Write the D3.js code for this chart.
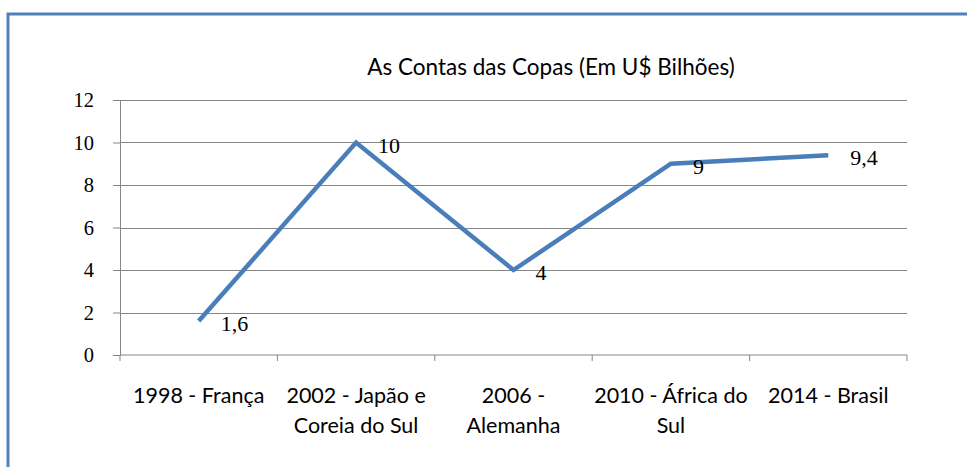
<!DOCTYPE html>
<html>
<head>
  <meta charset="utf-8">
  <title>As Contas das Copas</title>
  <script src="https://d3js.org/d3.v7.min.js"></script>
  <style>
    body { margin: 0; background: #fff; }
    .grid line { stroke: #868686; stroke-width: 1; }
    .axis path, .axis line { stroke: #868686; }
  </style>
</head>
<body>
  <svg id="chart"></svg>
  <script>
    const categories = [
      ["1998 - França"],
      ["2002 - Japão e", "Coreia do Sul"],
      ["2006 -", "Alemanha"],
      ["2010 - África do", "Sul"],
      ["2014 - Brasil"]
    ];
    const values = [1.6, 10, 4, 9, 9.4];
    const valueLabels = ["1,6", "10", "4", "9", "9,4"];
    const yTicks = [0, 2, 4, 6, 8, 10, 12];

    const svgWidth = 967, svgHeight = 467;
    const margin = { top: 100, right: 60, bottom: 112, left: 120 };
    const width = 907 - margin.left;
    const height = 355 - margin.top;

    const svg = d3.select("#chart")
      .attr("width", svgWidth)
      .attr("height", svgHeight);

    // outer frame (only top/left visible)
    svg.append("rect")
      .attr("x", 8).attr("y", 14)
      .attr("width", 1000).attr("height", 500)
      .attr("fill", "none")
      .attr("stroke", "#4f81bd")
      .attr("stroke-width", 3);

    svg.append("text")
      .attr("x", 551).attr("y", 75)
      .attr("text-anchor", "middle")
      .style("font-family", "Lato, 'Open Sans', sans-serif")
      .style("font-size", "22.5px")
      .attr("fill", "#000")
      .text("As Contas das Copas (Em U$ Bilhões)");

    const g = svg.append("g")
      .attr("transform", "translate(" + margin.left + "," + margin.top + ")");

    const x = d3.scaleBand()
      .domain(d3.range(categories.length))
      .range([0, width]);

    const y = d3.scaleLinear()
      .domain([0, 12])
      .range([height, 0]);

    // gridlines
    g.append("g")
      .attr("class", "grid")
      .selectAll("line")
      .data(yTicks.filter(d => d > 0))
      .enter().append("line")
      .attr("x1", 0).attr("x2", width)
      .attr("y1", d => Math.round(y(d)) + 0.5)
      .attr("y2", d => Math.round(y(d)) + 0.5);

    // y axis
    const yAxis = g.append("g")
      .attr("class", "axis")
      .call(d3.axisLeft(y).tickValues(yTicks).tickSize(7).tickSizeOuter(0).tickPadding(19));
    yAxis.selectAll("text")
      .style("font-family", "'Liberation Serif', serif")
      .style("font-size", "20.5px")
      .attr("fill", "#000");

    // x axis
    const xAxisG = g.append("g")
      .attr("class", "axis")
      .attr("transform", "translate(0," + height + ")");
    xAxisG.append("line")
      .attr("x1", 0).attr("x2", width)
      .attr("stroke", "#868686");
    xAxisG.selectAll(".tk")
      .data(d3.range(categories.length + 1))
      .enter().append("line")
      .attr("class", "tk")
      .attr("x1", d => d < categories.length ? x(d) : width)
      .attr("x2", d => d < categories.length ? x(d) : width)
      .attr("y1", 0).attr("y2", 6)
      .attr("stroke", "#868686");

    const catLabels = xAxisG.selectAll(".cat")
      .data(categories)
      .enter().append("text")
      .attr("class", "cat")
      .attr("text-anchor", "middle")
      .style("font-family", "Lato, 'Open Sans', sans-serif")
      .style("font-size", "21.5px")
      .attr("fill", "#000");
    catLabels.selectAll("tspan")
      .data((d, i) => d.map(line => ({ line: line, i: i })))
      .enter().append("tspan")
      .attr("x", d => x(d.i) + x.bandwidth() / 2)
      .attr("y", (d, j) => 47.5 + j * 30)
      .text(d => d.line);

    // line
    const line = d3.line()
      .x((d, i) => x(i) + x.bandwidth() / 2)
      .y(d => y(d));

    g.append("path")
      .datum(values)
      .attr("fill", "none")
      .attr("stroke", "#4a7ebb")
      .attr("stroke-width", 4.5)
      .attr("stroke-linejoin", "miter")
      .attr("d", line);

    // data labels
    g.selectAll(".lbl")
      .data(values)
      .enter().append("text")
      .attr("class", "lbl")
      .attr("x", (d, i) => x(i) + x.bandwidth() / 2 + 22)
      .attr("y", d => y(d) + 10)
      .style("font-family", "'Liberation Serif', serif")
      .style("font-size", "22px")
      .attr("fill", "#000")
      .text((d, i) => valueLabels[i]);
  </script>
</body>
</html>
